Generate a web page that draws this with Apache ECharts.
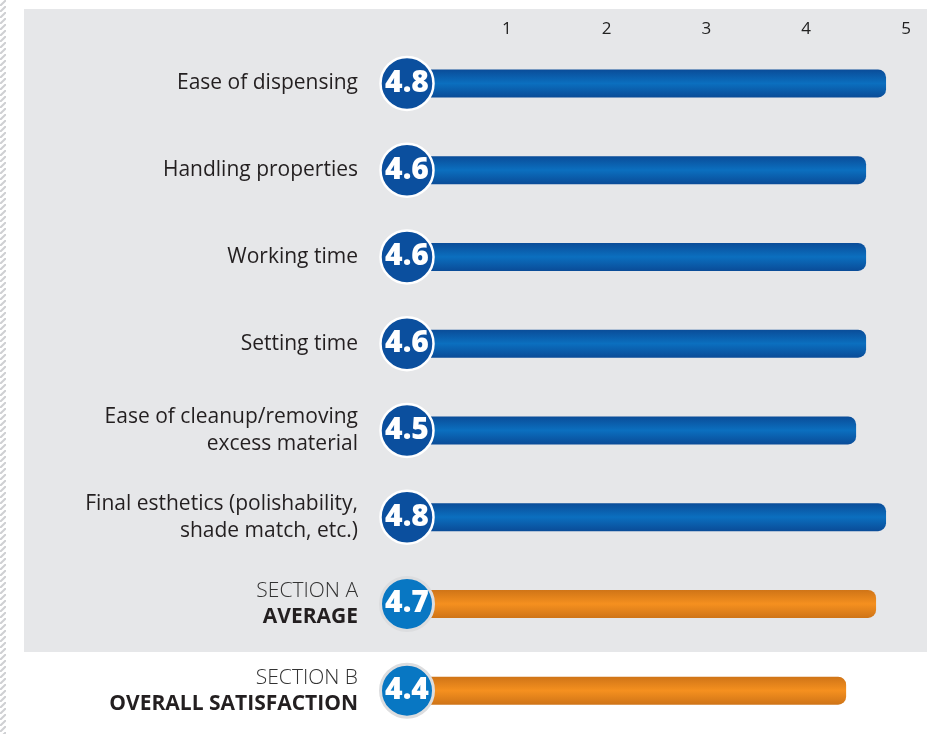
<!DOCTYPE html>
<html>
<head>
<meta charset="utf-8">
<script src="https://cdn.jsdelivr.net/npm/echarts@6/dist/echarts.min.js"></script>
<style>
html,body{margin:0;padding:0;background:#fff;}
#chart{width:941px;height:734px;}
</style>
</head>
<body>
<div id="chart"></div>
<script>
var categories = [
  "Ease of dispensing",
  "Handling properties",
  "Working time",
  "Setting time",
  "Ease of cleanup/removing\nexcess material",
  "Final esthetics (polishability,\nshade match, etc.)",
  "SECTION A\nAVERAGE",
  "SECTION B\nOVERALL SATISFACTION"
];
var scores = [4.8, 4.6, 4.6, 4.6, 4.5, 4.8, 4.7, 4.4];
var isSummary = [false, false, false, false, false, false, true, true];
var tickLabels = ["", "1", "2", "3", "4", "5"];

var FONT = "'Open Sans', 'Noto Sans', sans-serif";

function grad(c1, c2) {
  return new echarts.graphic.LinearGradient(0, 0, 0, 1, [
    {offset: 0, color: c1}, {offset: 0.5, color: c2}, {offset: 1, color: c1}
  ]);
}
var blueBar = grad('#0a4c98', '#0b6fbf');
var orangeBar = grad('#cf7417', '#f5901f');

// stripe pattern for left edge
var pc = document.createElement('canvas');
pc.width = 6; pc.height = 6;
var pctx = pc.getContext('2d');
pctx.fillStyle = '#ffffff'; pctx.fillRect(0, 0, 6, 6);
pctx.strokeStyle = '#cfd0d3'; pctx.lineWidth = 2;
pctx.beginPath(); pctx.moveTo(-1, 7); pctx.lineTo(7, -1); pctx.stroke();

var chart = echarts.init(document.getElementById('chart'));

var barData = scores.map(function (v, i) {
  return {
    value: v,
    itemStyle: {color: isSummary[i] ? orangeBar : blueBar}
  };
});
var badgeData = scores.map(function (v, i) {
  return {
    value: [0, i, v],
    itemStyle: isSummary[i]
      ? {color: '#0877c3', borderColor: '#dcdddf', borderWidth: 3, opacity: 1}
      : {color: '#0b4f9e', borderColor: '#ffffff', borderWidth: 2.5, opacity: 1}
  };
});

chart.setOption({
  animation: false,
  graphic: [
    {type: 'rect', z: -10, shape: {x: 24, y: 9, width: 903, height: 643}, style: {fill: '#e6e7e9'}},
    {type: 'rect', z: -10, shape: {x: 0, y: 0, width: 6, height: 734}, style: {fill: {image: pc, repeat: 'repeat'}}}
  ],
  grid: {left: 407, right: 35, top: 40, height: 696, containLabel: false},
  xAxis: {
    type: 'value', position: 'top', min: 0, max: 5, interval: 1,
    axisLine: {show: false}, axisTick: {show: false}, splitLine: {show: false},
    axisLabel: {
      margin: 2, color: '#222', fontSize: 17, fontWeight: 500, fontFamily: FONT,
      formatter: function (v) { return tickLabels[Math.round(v)]; }
    }
  },
  yAxis: {
    type: 'category', inverse: true, data: categories,
    axisLine: {show: false}, axisTick: {show: false},
    axisLabel: {
      margin: 49, align: 'right', color: '#231f20', fontSize: 21, fontWeight: 500, fontFamily: FONT,
      lineHeight: 27,
      formatter: function (v) {
        if (v.indexOf('SECTION') === 0) {
          var p = v.split('\n');
          return '{l|' + p[0] + '}\n{b|' + p[1] + '}';
        }
        return v;
      },
      rich: {
        l: {fontSize: 21, fontWeight: 300, color: '#333', fontFamily: FONT, lineHeight: 26, align: 'right'},
        b: {fontSize: 21, fontWeight: 'bold', color: '#231f20', fontFamily: FONT, lineHeight: 26, align: 'right'}
      }
    }
  },
  series: [
    {
      type: 'bar', data: barData, barWidth: 28, z: 2,
      itemStyle: {borderRadius: [0, 8, 8, 0]}
    },
    {
      type: 'scatter', data: badgeData, symbolSize: 53, z: 5,
      label: {
        show: true, position: 'inside', color: '#fff', fontSize: 30, fontWeight: 800,
        fontFamily: FONT,
        formatter: function (p) { return p.value[2].toFixed(1); }
      }
    }
  ]
});
</script>
</body>
</html>
